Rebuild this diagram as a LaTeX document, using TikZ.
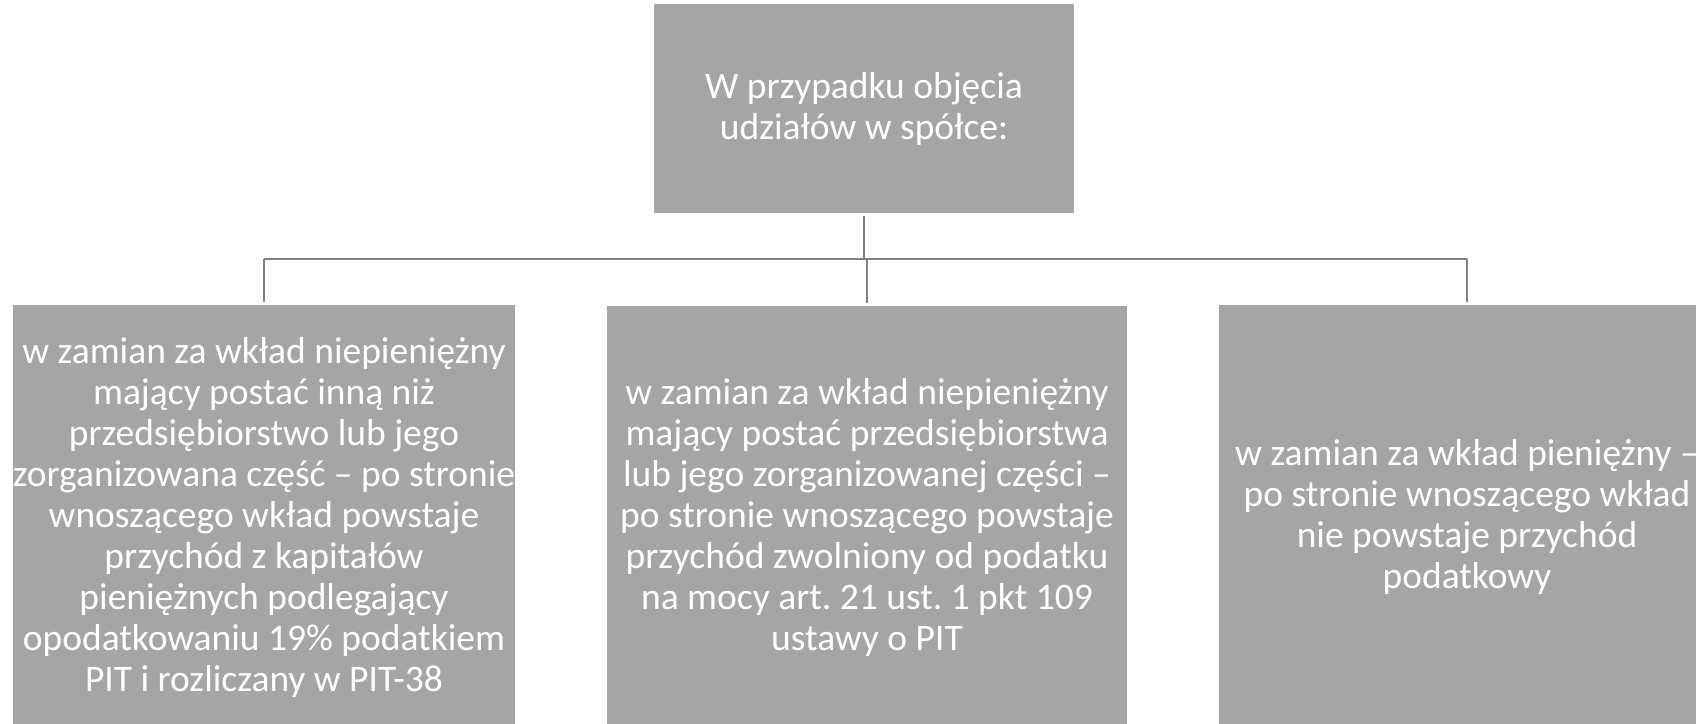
\documentclass[tikz,border=0pt]{standalone}
\usepackage{fontspec}
\setmainfont{Carlito}
\frenchspacing
\definecolor{boxgray}{HTML}{A5A5A5}
\definecolor{linegray}{HTML}{808080}
\begin{document}
\begin{tikzpicture}[x=1pt,y=-1pt,
  box/.style={fill=boxgray, draw=none, text=white, align=center, inner sep=0pt,
    font=\fontsize{37.5}{41}\selectfont},
  conn/.style={draw=linegray, line width=2.6pt}]
\useasboundingbox (0,0) rectangle (1696,723);
\clip (0,0) rectangle (1696,723);
\fill[white] (0,0) rectangle (1696,723);
\node[box, minimum width=420pt, minimum height=209pt] (top) at (864,108.5)
  {W przypadku objęcia\\udziałów w spółce:};
\node[box, minimum width=502pt, minimum height=424pt] (left) at (264,517)
  {w zamian za wkład niepieniężny\\mający postać inną niż\\przedsiębiorstwo lub jego\\zorganizowana część – po stronie\\wnoszącego wkład powstaje\\przychód z kapitałów\\pieniężnych podlegający\\opodatkowaniu 19\% podatkiem\\PIT i rozliczany w PIT-38};
\node[box, minimum width=520pt, minimum height=422pt] (mid) at (867,517)
  {w zamian za wkład niepieniężny\\mający postać przedsiębiorstwa\\lub jego zorganizowanej części –\\po stronie wnoszącego powstaje\\przychód zwolniony od podatku\\na mocy art. 21 ust. 1 pkt 109\\ustawy o PIT};
\node[box, minimum width=496pt, minimum height=424pt] (right) at (1467,517)
  {w zamian za wkład pieniężny –\\po stronie wnoszącego wkład\\nie powstaje przychód\\podatkowy};
\coordinate (busL) at (264,259);
\coordinate (busR) at (1467,259);
\draw[conn] (busL) -- (busR);
\draw[conn, shorten <=3pt] (top.south) -- (top.south |- busL);
\draw[conn, shorten >=3pt] (left.north |- busL) -- (left.north);
\draw[conn, shorten >=3pt] (mid.north |- busL) -- (mid.north);
\draw[conn, shorten >=3pt] (right.north |- busL) -- (right.north);
\end{tikzpicture}
\end{document}
